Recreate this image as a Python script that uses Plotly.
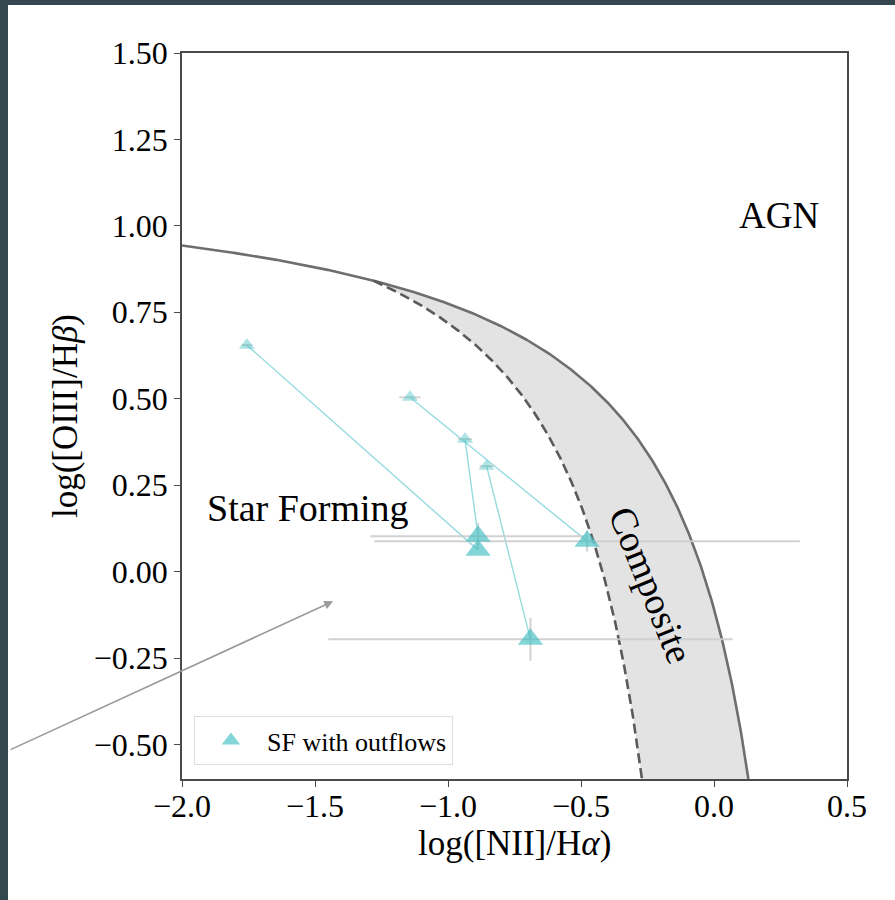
import numpy as np
import plotly.graph_objects as go

# --- BPT diagnostic: SF galaxies with outflow components ---------------------
# total-line measurements (faint) paired with outflow-component measurements
narrow_nii = [-1.756, -1.143, -0.936, -0.855]
narrow_oiii = [0.655, 0.504, 0.383, 0.305]
narrow_nii_err = [0.02, 0.04, 0.026, 0.026]

outflow_nii = [-0.887, -0.477, -0.887, -0.690]
outflow_oiii = [0.062, 0.088, 0.102, -0.196]
outflow_nii_err = [0.0, 0.80, 0.405, 0.76]
outflow_oiii_err = [0.0, 0.03, 0.038, 0.062]

# demarcation curves: log([OIII]/Hb) = a / (log([NII]/Ha) - b) + c
kewley_coef = (0.61, 0.47, 1.19)      # Kewley et al. 2001 (maximum starburst)
kauffmann_coef = (0.61, 0.05, 1.30)   # Kauffmann et al. 2003 (empirical SF)

x_ticks = [-2.0, -1.5, -1.0, -0.5, 0.0, 0.5]
y_ticks = [-0.50, -0.25, 0.00, 0.25, 0.50, 0.75, 1.00, 1.25, 1.50]
x_range = [-2.0, 0.5]
y_range = [-0.6, 1.5]

TEAL = "64,190,195"
SERIF = "Liberation Serif, Times New Roman, serif"


def curve(coef, x):
    a, b, c = coef
    return a / (x - b) + c


def x_at(coef, y):
    a, b, c = coef
    return b + a / (y - c)


# curve end points on the bottom axis and where the two curves meet
xk_end = x_at(kewley_coef, y_range[0])
xa_end = x_at(kauffmann_coef, y_range[0])
xs = np.linspace(-1.9, -0.6, 20001)
x_meet = xs[np.argmin(np.abs(curve(kewley_coef, xs) - curve(kauffmann_coef, xs)))]

xk = np.linspace(x_range[0], xk_end, 600)
yk = curve(kewley_coef, xk)
xa = np.linspace(x_meet, xa_end, 400)
ya = curve(kauffmann_coef, xa)

# composite band polygon between the two curves
xb_k = np.linspace(x_meet, xk_end, 400)
poly_x = np.concatenate([xb_k, [xa_end], xa[::-1]])
poly_y = np.concatenate([curve(kewley_coef, xb_k), [y_range[0]], ya[::-1]])

fig = go.Figure()

fig.add_trace(go.Scatter(
    x=poly_x, y=poly_y, mode="lines", fill="toself",
    fillcolor="#e3e3e3", line=dict(width=0), hoverinfo="skip", showlegend=False))

fig.add_trace(go.Scatter(
    x=xk, y=yk, mode="lines", line=dict(color="#6e6e6e", width=2.6),
    hoverinfo="skip", showlegend=False))
fig.add_trace(go.Scatter(
    x=xa, y=ya, mode="lines", line=dict(color="#5a5a5a", width=2.6, dash="10px,5px"),
    hoverinfo="skip", showlegend=False))

# links from each total-line point to its outflow-component point
link_x, link_y = [], []
for x0, y0, x1, y1 in zip(narrow_nii, narrow_oiii, outflow_nii, outflow_oiii):
    link_x += [x0, x1, None]
    link_y += [y0, y1, None]
fig.add_trace(go.Scatter(
    x=link_x, y=link_y, mode="lines",
    line=dict(color=f"rgba({TEAL},0.55)", width=1.4),
    hoverinfo="skip", showlegend=False))

fig.add_trace(go.Scatter(
    x=narrow_nii, y=narrow_oiii, mode="markers",
    marker=dict(symbol="triangle-up", size=14, color=f"rgba({TEAL},0.42)",
                line=dict(width=0)),
    error_x=dict(type="data", array=narrow_nii_err, color="rgba(200,200,200,0.8)",
                 thickness=2, width=0),
    showlegend=False))

fig.add_trace(go.Scatter(
    x=outflow_nii, y=outflow_oiii, mode="markers", name="SF with outflows",
    marker=dict(symbol="triangle-up", size=22, color=f"rgba({TEAL},0.65)",
                line=dict(width=0)),
    error_x=dict(type="data", array=outflow_nii_err, color="rgba(205,205,205,0.9)",
                 thickness=2, width=0),
    error_y=dict(type="data", array=outflow_oiii_err, color="rgba(205,205,205,0.9)",
                 thickness=2, width=0),
    showlegend=True))

W, H = 895, 900
L, R, T, B = 182, 48, 53, 121
pw, ph = W - L - R, H - T - B

axis_common = dict(
    showline=True, mirror=True, linecolor="#4a4a4a", linewidth=1.5,
    ticks="outside", ticklen=6, tickwidth=1.3, tickcolor="#4a4a4a",
    showgrid=False, zeroline=False,
    tickfont=dict(family=SERIF, size=32, color="black"),
)

fig.update_layout(
    width=W, height=H,
    margin=dict(l=L, r=R, t=T, b=B),
    paper_bgcolor="white", plot_bgcolor="white",
    xaxis=dict(range=x_range, tickvals=x_ticks, tickformat=".1f",
               ticklabelstandoff=-8, **axis_common),
    yaxis=dict(range=y_range, tickvals=y_ticks, tickformat=".2f",
               title=dict(text="log([OIII]/H<i>β</i>)", standoff=6,
                          font=dict(family=SERIF, size=35, color="black")),
               **axis_common),
    legend=dict(x=0.018, y=0.019, xanchor="left", yanchor="bottom",
                bgcolor="white", bordercolor="#dddddd", borderwidth=1,
                font=dict(family=SERIF, size=26, color="black"),
                itemwidth=62),
    showlegend=True,
)

# x-axis title
fig.add_annotation(x=0.5, y=-(843 - (H - B)) / ph, xref="paper", yref="paper",
                   xanchor="center", yanchor="middle", showarrow=False,
                   text="log([NII]/H<i>α</i>)",
                   font=dict(family=SERIF, size=35, color="black"))

# region labels
fig.add_annotation(x=-1.526, y=0.183, text="Star Forming", showarrow=False,
                   font=dict(family=SERIF, size=38, color="black"))
fig.add_annotation(x=0.244, y=1.031, text="AGN", showarrow=False,
                   font=dict(family=SERIF, size=37, color="black"))
fig.add_annotation(x=-0.238, y=-0.04, text="Composite", showarrow=False,
                   textangle=68, font=dict(family=SERIF, size=38, color="black"))

# pointer arrow entering from the left
fig.add_annotation(x=-1.432, y=-0.086, ax=-2.650, ay=-0.517,
                   axref="x", ayref="y", xref="x", yref="y",
                   text="", showarrow=True, arrowhead=2, arrowsize=1.1,
                   arrowwidth=1.6, arrowcolor="#9a9a9a", standoff=0)

# dark page frame on the top and left edges
dark = "#34474f"
fig.add_shape(type="rect", xref="paper", yref="paper",
              x0=-(L + 5) / pw, x1=(8 - L) / pw,
              y0=-(B + 5) / ph, y1=1 + (T + 5) / ph,
              fillcolor=dark, line=dict(width=0), layer="above")
fig.add_shape(type="rect", xref="paper", yref="paper",
              x0=-(L + 5) / pw, x1=1 + (R + 5) / pw,
              y0=1 + (T - 5) / ph, y1=1 + (T + 5) / ph,
              fillcolor=dark, line=dict(width=0), layer="above")

fig.write_html("out.html")
